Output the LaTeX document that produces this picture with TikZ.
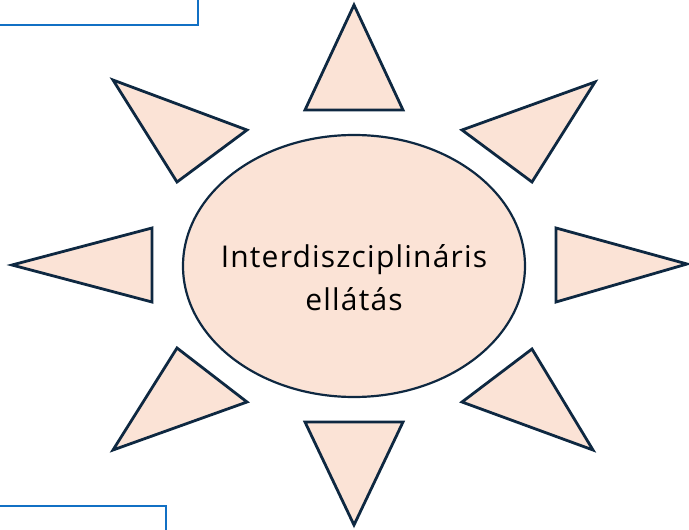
\documentclass[tikz,border=0pt]{standalone}
\usepackage{fontspec}
\setmainfont{Open Sans}[LetterSpace=4]
\usetikzlibrary{shapes.geometric}
\definecolor{peach}{HTML}{FBE3D6}
\definecolor{darkline}{HTML}{0E2841}
\definecolor{blueline}{HTML}{1170C4}
\begin{document}
\begin{tikzpicture}[x=1pt,y=-1pt,
  ray/.style={fill=peach,draw=darkline,line width=2.8pt,line join=miter},
  frameline/.style={draw=blueline,line width=2.4pt}]
\useasboundingbox (0,0) rectangle (689,530);
% frames
\draw[frameline] (0,25) -- (198,25) -- (198,-2);
\draw[frameline] (0,506) -- (166,506) -- (166,532);
% rays
\draw[ray] (354,5) -- (403,110) -- (305,110) -- cycle;
\draw[ray] (354,525) -- (403,422) -- (305,422) -- cycle;
\draw[ray] (12,265) -- (152,228) -- (152,302) -- cycle;
\draw[ray] (687,264) -- (556,228) -- (556,302) -- cycle;
\draw[ray] (113,80) -- (247,130) -- (177,182) -- cycle;
\draw[ray] (595,82) -- (462,130) -- (532,182) -- cycle;
\draw[ray] (177,348) -- (247,402) -- (113,450) -- cycle;
\draw[ray] (532,349) -- (462,402) -- (593,450) -- cycle;
% centre
\node[ellipse, draw=darkline, fill=peach, line width=2.2pt, minimum width=342pt, minimum height=262pt, inner sep=0pt] (c) at (354,266) {};
\node[align=center, font=\fontsize{30}{43}\selectfont, text=black] (t) at (354,278) {Interdiszciplináris\\ellátás};
\end{tikzpicture}
\end{document}
